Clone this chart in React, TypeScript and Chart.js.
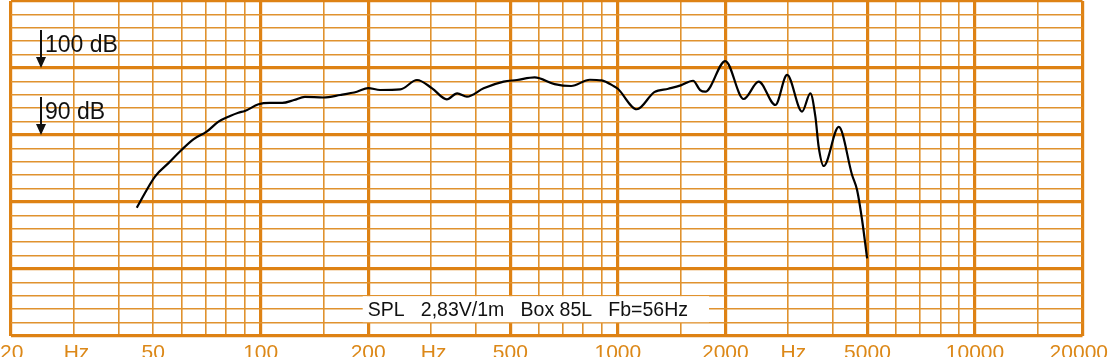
import React, { useEffect, useRef } from "react";
import { Chart, registerables } from "chart.js";
Chart.register(...registerables);

// Frequency response (Hz) and SPL (dB)
const freqs = [45, 50.6, 55.2, 60, 64.8, 70.6, 76.2, 82.1, 86.6, 90.3, 98.6, 106, 115, 124, 133, 150, 167, 186, 200, 216, 246, 274, 302, 332, 355, 378, 421, 479, 522, 585, 665, 740, 835, 900, 974, 1000, 1131, 1265, 1385, 1500, 1624, 1700, 1758, 2000, 2250, 2480, 2761, 2978, 3280, 3460, 3574, 3650, 3771, 4155, 4528, 4676, 4830, 4988];
const spl = [79.15, 83.8, 85.8, 87.76, 89.36, 90.5, 91.99, 92.84, 93.33, 93.58, 94.58, 94.78, 94.78, 95.22, 95.7, 95.6, 95.97, 96.46, 97.0, 96.72, 96.8, 98.21, 96.97, 95.33, 96.22, 95.72, 96.97, 97.96, 98.21, 98.6, 97.6, 97.31, 98.25, 98.15, 97.3, 96.9, 93.84, 96.4, 96.9, 97.4, 98.1, 96.7, 96.46, 101.04, 95.37, 97.96, 94.48, 98.96, 93.48, 96.22, 92.73, 88.25, 85.37, 91.2, 84.03, 81.79, 77.31, 71.6];

const gridFreqs = [20, 30, 40, 50, 60, 70, 80, 90, 100, 150, 200, 300, 400, 500, 600, 700, 800, 900, 1000, 1500, 2000, 3000, 4000, 5000, 6000, 7000, 8000, 9000, 10000, 15000, 20000];
const thickFreqs = [20, 100, 200, 500, 1000, 2000, 5000, 10000, 20000];
const dbGrid = [60, 62, 64, 66, 68, 70, 72, 74, 76, 78, 80, 82, 84, 86, 88, 90, 92, 94, 96, 98, 100, 102, 104, 106, 108, 110];
const dbMajor = [60, 70, 80, 90, 100, 110];

const xLabelValues = [20, 30.5, 50, 100, 200, 305, 500, 1000, 2000, 3100, 5000, 10000, 20000];
const xLabelTexts = ["20", "Hz", "50", "100", "200", "Hz", "500", "1000", "2000", "Hz", "5000", "10000", "20000"];

const refLevels = [100, 90];
const refTexts = ["100 dB", "90 dB"];

const caption = "SPL   2,83V/1m   Box 85L   Fb=56Hz";
const captionLevel = 64;
const captionFreq = 560;

const THICK = "#de8214";
const THIN = "#e0922e";
const FONT = '"Liberation Sans", Arial, sans-serif';

const overlay = {
  id: "overlay",
  afterDraw(chart: any) {
    const { ctx, scales, chartArea } = chart;
    const x = scales.x;
    const y = scales.y;
    ctx.save();

    // caption with white box
    ctx.font = `19.5px ${FONT}`;
    const w = ctx.measureText(caption).width;
    const cx = x.getPixelForValue(captionFreq);
    const cy = y.getPixelForValue(captionLevel);
    ctx.fillStyle = "#ffffff";
    ctx.fillRect(cx - w / 2 - 5, cy - 13, w + 26, 26);
    ctx.fillStyle = "#111111";
    ctx.textAlign = "center";
    ctx.textBaseline = "middle";
    ctx.fillText(caption, cx, cy + 1);

    // reference level arrows
    ctx.strokeStyle = "#111111";
    ctx.fillStyle = "#111111";
    ctx.lineWidth = 2;
    refLevels.forEach((lv, i) => {
      const tip = y.getPixelForValue(lv);
      const ax = 41;
      ctx.beginPath();
      ctx.moveTo(ax, tip - 38);
      ctx.lineTo(ax, tip - 10);
      ctx.stroke();
      ctx.beginPath();
      ctx.moveTo(ax, tip);
      ctx.lineTo(ax - 5, tip - 11);
      ctx.lineTo(ax + 5, tip - 11);
      ctx.closePath();
      ctx.fill();
      ctx.font = `23px ${FONT}`;
      ctx.textAlign = "left";
      ctx.textBaseline = "alphabetic";
      ctx.fillText(refTexts[i], ax + 4, tip - 16);
    });

    // bottom labels
    ctx.font = `21px ${FONT}`;
    ctx.fillStyle = "#dc8818";
    ctx.textAlign = "left";
    ctx.textBaseline = "alphabetic";
    const W = chart.width;
    xLabelValues.forEach((v, i) => {
      const t = xLabelTexts[i];
      const tw = ctx.measureText(t).width;
      let left = x.getPixelForValue(v) - tw / 2;
      if (left < 0) left = 0;
      if (left + tw > W - 3) left = W - 3 - tw;
      ctx.fillText(t, left, chartArea.bottom + 23);
    });
    ctx.restore();
  },
};

export default function App() {
  const ref = useRef<HTMLCanvasElement | null>(null);
  useEffect(() => {
    if (!ref.current) return;
    const chart = new Chart(ref.current, {
      type: "line",
      data: {
        datasets: [
          {
            data: freqs.map((f, i) => ({ x: f, y: spl[i] })),
            borderColor: "#000000",
            borderWidth: 2.2,
            pointRadius: 0,
            fill: false,
            cubicInterpolationMode: "monotone",
          },
        ],
      },
      options: {
        animation: false,
        responsive: false,
        devicePixelRatio: 1,
        layout: { padding: { left: 11, right: 28.5, top: 1, bottom: 21 } },
        plugins: { legend: { display: false }, tooltip: { enabled: false } },
        scales: {
          x: {
            type: "logarithmic",
            min: 20,
            max: 20000,
            afterBuildTicks: (s: any) => {
              s.ticks = gridFreqs.map((v) => ({ value: v }));
            },
            ticks: { display: false },
            border: { display: false },
            grid: {
              drawTicks: false,
              color: (c: any) => (thickFreqs.includes(c.tick?.value) ? THICK : THIN),
              lineWidth: (c: any) => (thickFreqs.includes(c.tick?.value) ? 3.2 : 1.6),
            },
          },
          y: {
            type: "linear",
            min: 60,
            max: 110,
            afterBuildTicks: (s: any) => {
              s.ticks = dbGrid.map((v) => ({ value: v }));
            },
            ticks: { display: false },
            border: { display: false },
            grid: {
              drawTicks: false,
              color: (c: any) => (dbMajor.includes(c.tick?.value) ? THICK : THIN),
              lineWidth: (c: any) => (dbMajor.includes(c.tick?.value) ? 3.2 : 1.6),
            },
          },
        },
      },
      plugins: [overlay],
    } as any);
    return () => chart.destroy();
  }, []);
  return (
    <div style={{ position: "absolute", left: 0, top: 0, width: 1111, height: 357, background: "#fff" }}>
      <canvas ref={ref} width={1111} height={357} style={{ display: "block", width: 1111, height: 357 }} />
    </div>
  );
}
